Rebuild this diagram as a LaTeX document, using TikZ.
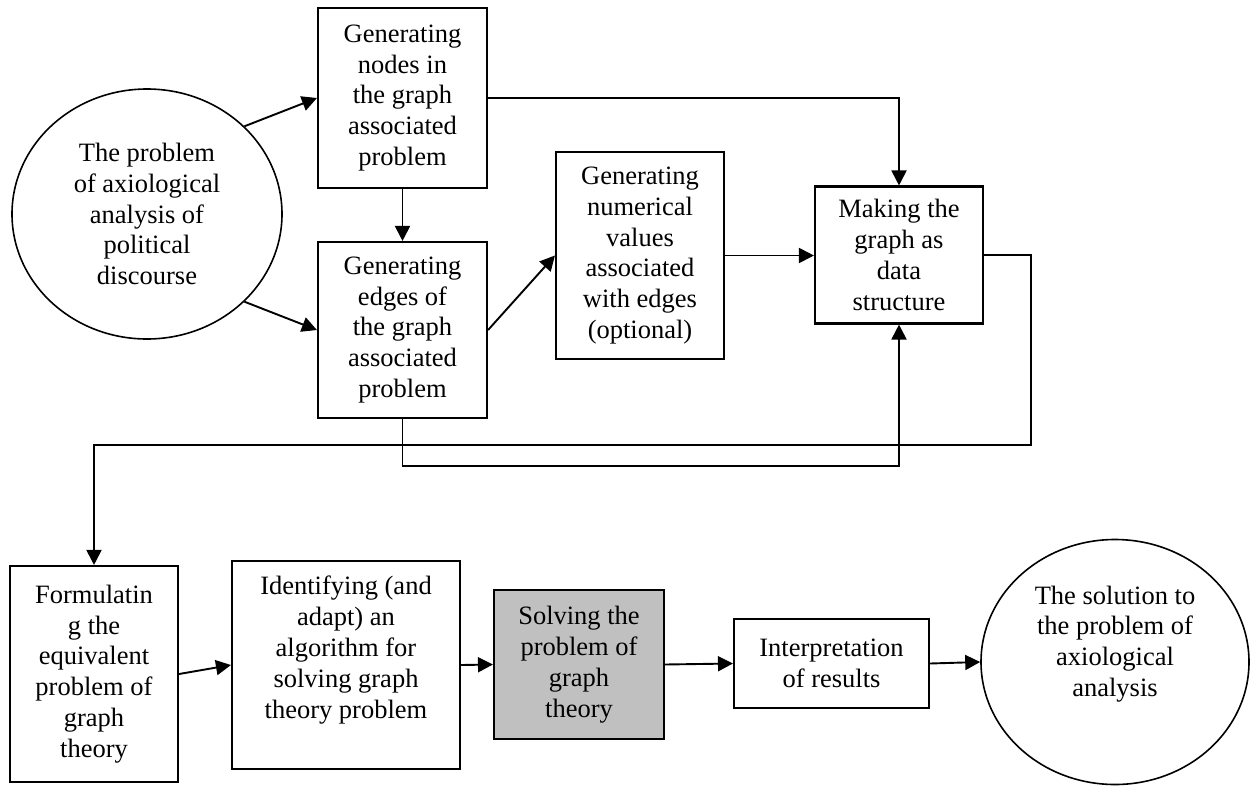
\documentclass[tikz,border=0pt]{standalone}
\usepackage{fontspec}
\setmainfont{Liberation Serif}
\usetikzlibrary{arrows.meta,shapes.geometric}
\begin{document}
\begin{tikzpicture}[x=1pt,y=-1pt,
  every node/.style={font=\fontsize{26.5}{30.8}\selectfont, align=center, inner sep=0pt},
  box/.style={draw, line width=2.1pt, rectangle},
  oval/.style={draw, line width=1.6pt, ellipse},
  conn/.style={line width=1.9pt, -{Triangle[length=15pt,width=15pt]}}
]
\useasboundingbox (0,0) rectangle (1250,785);
% top part
\node[oval, minimum width=270pt, minimum height=250pt] (E1) at (147,214) {The problem\\of axiological\\analysis of\\political\\discourse};
\node[box, minimum width=169pt, minimum height=180pt] (B1) at (402.5,98) {Generating\\nodes in\\the graph\\associated\\problem};
\node[box, minimum width=169pt, minimum height=176pt] (B2) at (402.5,330) {Generating\\edges of\\the graph\\associated\\problem};
\node[box, minimum width=168pt, minimum height=207pt] (B3) at (640,255.5) {Generating\\numerical\\values\\associated\\with edges\\(optional)};
\node[box, minimum width=168pt, minimum height=137pt] (B4) at (899,255) {Making the\\graph as\\data\\structure};
% bottom part
\node[box, minimum width=168pt, minimum height=216pt] (F) at (94,674) {Formulatin\\g the\\equivalent\\problem of\\graph\\theory};
\node[box, minimum width=228pt, minimum height=208pt] (I) at (346,665) {};
\node (It) at (346,650) {Identifying (and\\adapt) an\\algorithm for\\solving graph\\theory problem};
\node[box, fill={rgb,255:red,192;green,192;blue,192}, minimum width=170pt, minimum height=149pt] (S) at (579,664.5) {Solving the\\problem of\\graph\\theory};
\node[box, minimum width=195pt, minimum height=89pt] (R) at (831.5,663.5) {Interpretation\\of results};
\node[oval, minimum width=268pt, minimum height=245pt] (E2) at (1115,662) {};
\node (E2t) at (1115,644) {The solution to\\the problem of\\axiological\\analysis};
% connectors
\coordinate (c1) at (1031,445);
\coordinate (c2) at (899,466);
\draw[conn] (E1.42) -- (B1.west);
\draw[conn] (E1.-42) -- (B2.west);
\draw[conn] (B1.south) -- (B2.north);
\draw[conn] (B2.east) -- (B3.west);
\draw[conn] (B3.east) -- (B3.east -| B4.west);
\draw[conn] (B1.east) -| (B4.north);
\draw[conn] (B4.east) -| (c1) -| (F.north);
\draw[conn] (B2.south) |- (c2) -- (B4.south);
\draw[conn] (F.east) -- (I.west);
\draw[conn] (I.east) -- (S.west);
\draw[conn] (S.east) -- (R.west);
\draw[conn] (R.east) -- (E2.west);
\end{tikzpicture}
\end{document}
